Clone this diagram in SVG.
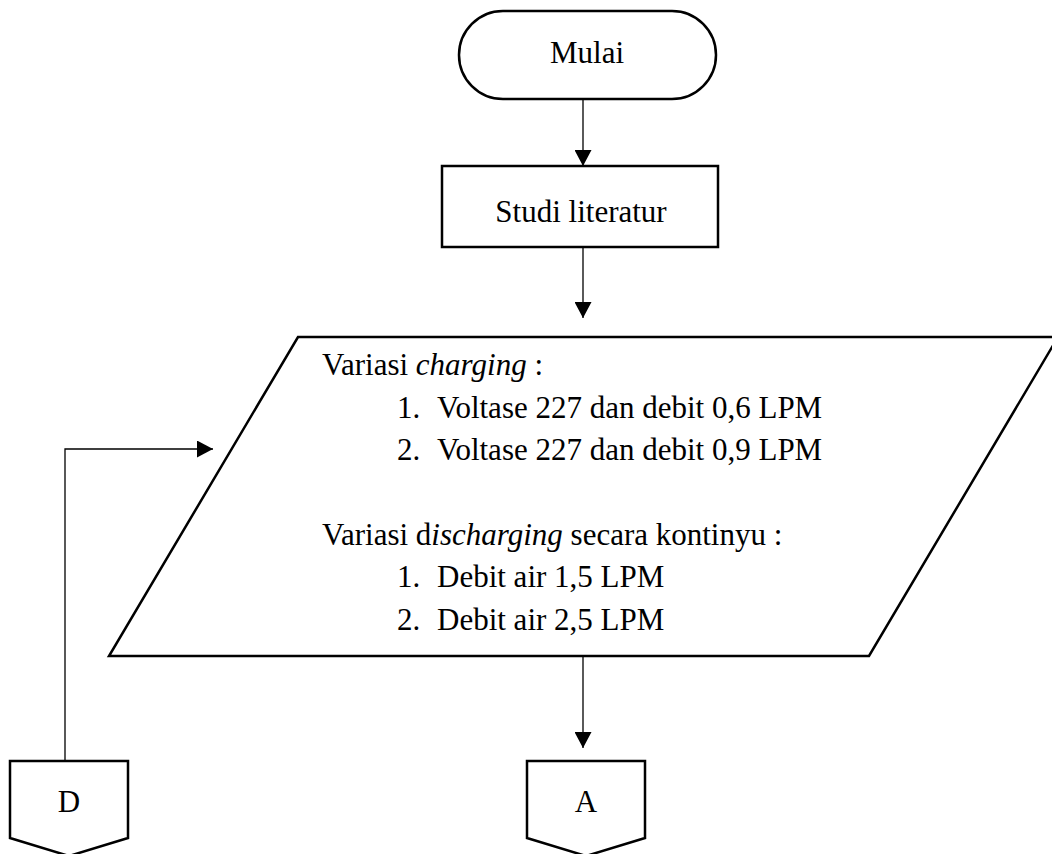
<svg xmlns="http://www.w3.org/2000/svg" width="1052" height="854" viewBox="0 0 1052 854">
<style>
.shape{fill:#fff;stroke:#000;stroke-width:2.5;stroke-linejoin:miter}
.conn{fill:none;stroke:#000;stroke-width:1.3}
text{font-family:"Liberation Serif","Times New Roman",serif;font-size:31px;fill:#000}
.c{text-anchor:middle}
.i{font-style:italic}
</style>
<defs>
<marker id="arr" viewBox="0 0 16 17" refX="16" refY="8.5" markerWidth="16" markerHeight="17" markerUnits="userSpaceOnUse" orient="auto">
<path d="M0,0 L16,8.5 L0,17 Z" fill="#000"/>
</marker>
</defs>
<rect width="1052" height="854" fill="#fff"/>
<g id="connectors">
<line class="conn" x1="583" y1="99" x2="583" y2="166" marker-end="url(#arr)"/>
<line class="conn" x1="583" y1="247" x2="583" y2="318" marker-end="url(#arr)"/>
<line class="conn" x1="583" y1="656" x2="583" y2="748" marker-end="url(#arr)"/>
<polyline class="conn" points="65,761 65,449 213,449" marker-end="url(#arr)"/>
</g>
<g id="mulai">
<rect class="shape" x="459" y="11" width="257" height="88" rx="44" ry="44"/>
<text class="c" x="587" y="63">Mulai</text>
</g>
<g id="studi">
<rect class="shape" x="442" y="166" width="276" height="81"/>
<text class="c" x="581" y="222">Studi literatur</text>
</g>
<g id="variasi">
<polygon class="shape" points="298,337 1058,337 869,656 109,656"/>
<text x="322" y="375">Variasi <tspan class="i">charging</tspan> :</text>
<text x="397" y="418">1.</text>
<text x="437" y="418">Voltase 227 dan debit 0,6 LPM</text>
<text x="397" y="460">2.</text>
<text x="437" y="460">Voltase 227 dan debit 0,9 LPM</text>
<text x="322" y="545">Variasi d<tspan class="i">ischarging</tspan> secara kontinyu :</text>
<text x="397" y="587">1.</text>
<text x="437" y="587">Debit air 1,5 LPM</text>
<text x="397" y="630">2.</text>
<text x="437" y="630">Debit air 2,5 LPM</text>
</g>
<g id="connD">
<polygon class="shape" points="10,761 128,761 128,838 69,856 10,838"/>
<text class="c" x="69" y="812">D</text>
</g>
<g id="connA">
<polygon class="shape" points="527,761 645,761 645,838 586,856 527,838"/>
<text class="c" x="586" y="812">A</text>
</g>
</svg>
